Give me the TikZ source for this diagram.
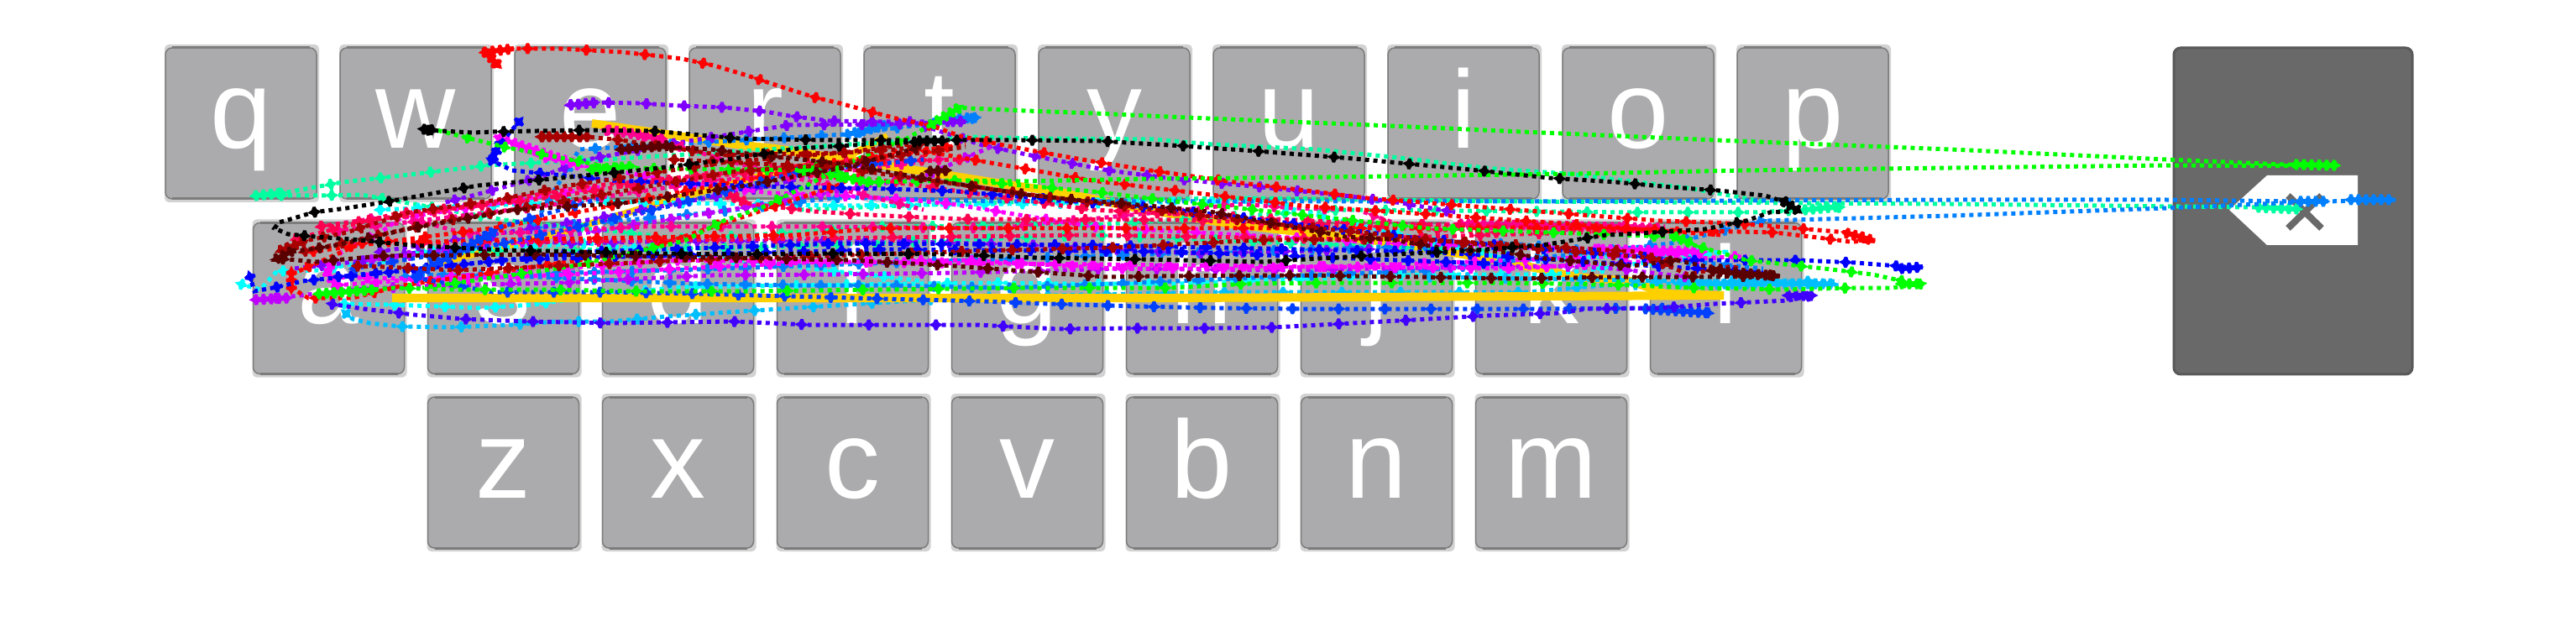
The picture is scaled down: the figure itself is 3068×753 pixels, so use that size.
\documentclass[tikz,border=0pt]{standalone}
\usepackage{fontspec}
\setmainfont{Liberation Sans}
\usepackage{xcolor}
\usetikzlibrary{
    positioning,
    decorations.markings
}
\definecolor{keygray}{HTML}{ABABAD}
\definecolor{keyrimc}{HTML}{7C7C7C}
\definecolor{keyhaloc}{HTML}{D2D2D2}
\definecolor{backgray}{HTML}{696969}
\definecolor{backrim}{HTML}{595959}
\definecolor{trRed}{HTML}{FF0000}
\definecolor{trViolet}{HTML}{8000FF}
\definecolor{trPurple}{HTML}{BF00FF}
\definecolor{trIndigo}{HTML}{4000FF}
\definecolor{trBlue}{HTML}{0000FF}
\definecolor{trRoyal}{HTML}{0040FF}
\definecolor{trAzure}{HTML}{0080FF}
\definecolor{trSky}{HTML}{00BFFF}
\definecolor{trCyan}{HTML}{00FFFF}
\definecolor{trSpring}{HTML}{00FFA0}
\definecolor{trLime}{HTML}{00FF00}
\definecolor{trYellow}{HTML}{FFD000}
\definecolor{trMagenta}{HTML}{FF00FF}
\definecolor{trPink}{HTML}{FF0090}
\definecolor{trCrimson}{HTML}{FF0050}
\definecolor{trDark}{HTML}{A80000}
\definecolor{trBrown}{HTML}{5A0000}
\newcommand{\trailmark}{\fill (-0.85mm,0) -- (-0.32mm,0.28mm) -- (-0.17mm,0.65mm) -- (0.17mm,0.65mm)
    -- (0.32mm,0.28mm) -- (0.85mm,0) -- (0.32mm,-0.28mm) -- (0.17mm,-0.65mm)
    -- (-0.17mm,-0.65mm) -- (-0.32mm,-0.28mm) -- cycle;}
\tikzset{
    keycap/.style={draw=keyrimc, fill=keygray, line width=0.15mm, rounded corners=0.8mm,
        minimum width=18mm, minimum height=18mm, inner sep=0pt, outer sep=0pt,
        text=white, text height=6mm, text depth=0pt,
        font=\fontsize{37.5}{40}\selectfont},
    keyhalo/.style={fill=keyhaloc, rounded corners=0.5mm},
    keyrim/.style={draw=keyrimc, line width=0.3mm},
    backkey/.style={draw=backrim, fill=backgray, line width=0.3mm, rounded corners=0.8mm,
        minimum width=28.4mm, minimum height=38.9mm, inner sep=0pt, outer sep=0pt},
    quick/.style={line width=0.5mm, dash pattern=on 0.5mm off 0.5mm},
    trail/.style={quick,
        postaction={decorate, decoration={markings,
            mark=between positions 0.3mm and 1 step #1 with {\trailmark}}}},
    blob/.style={line width=0.6mm,
        postaction={decorate, decoration={markings,
            mark=between positions 0mm and 1 step 0.9mm with {\trailmark}}}}
}
% one row of keys, pitch 208
\newcommand{\keyrow}[3]{
    \foreach \name [count=\i from 0] in {#3} {
        \pgfmathsetmacro{\cx}{#1+208*\i}
        \fill[keyhalo] (\cx-91,#2-94) rectangle (\cx+93,#2+94);
        \node[keycap] (key\name) at (\cx,#2) {\name};
        \draw[keyrim] ([xshift=0.8mm]key\name.north west) -- ([xshift=-0.8mm]key\name.north east);
        \draw[keyrim] ([xshift=0.8mm]key\name.south west) -- ([xshift=-0.8mm]key\name.south east);
    }
}
\newcommand{\gesture}[3][4.5mm]{\draw[#2, trail=#1] plot coordinates {#3};}
\newcommand{\sweep}[2]{\draw[#1, quick] plot coordinates {#2};}
\newcommand{\smear}[3]{\draw[#1, blob] #2 -- #3;}
\begin{document}
\begin{tikzpicture}[x=0.1mm, y=-0.1mm]
    \useasboundingbox (0,0) rectangle (3068,753);
    \fill[white] (0,0) rectangle (3068,753);
    \keyrow{287}{147}{q,w,e,r,t,y,u,i,o,p}
    \keyrow{391.5}{355.5}{a,s,d,f,g,h,j,k,l}
    \keyrow{599.5}{563}{z,x,c,v,b,n,m}
    % backspace key
    \node[backkey] (backspace) at (2731,251.5) {};
    \fill[white] (2655,250) -- (2700,209) -- (2808,209) -- (2808,292) -- (2700,292) -- cycle;
    \draw[backgray, line width=0.8mm] (2725,233) -- (2765,272) (2765,233) -- (2725,272);
    % swipe trails
    \draw[trYellow, line width=1mm] plot coordinates {(705,147) (883,173) (923,177) (1137,210) (1193,219) (1257,228) (1350,247) (1467,267) (1667,290) (1800,313) (1877,330) (1943,335) (1983,350) (2053,352)};
    \draw[trYellow, line width=0.8mm] plot coordinates {(523,313) (657,280) (793,240) (930,203) (1003,190) (1057,162)};
    \sweep{trSpring}{(2737,248) (2685,247) (2323,243) (1810,240) (1500,236) (1300,238) (1100,244) (950,250)}
    \gesture[6mm]{trSpring}{(2193,247) (2150,250) (2090,253) (1935,253) (1843,252) (1600,250) (1300,268) (1050,270) (820,285) (600,262) (430,232) (383,233) (305,233) (337,230) (408,217) (480,209) (580,197) (617,195) (720,190)}
    \sweep{trSpring}{(720,190) (1157,163) (1240,165) (1375,166) (1443,172) (1567,178) (1667,188) (1767,200) (1867,207) (2010,224) (2100,240)}
    \gesture{trSpring}{(500,300) (900,295) (1300,280) (1800,300)}
    \smear{trSpring}{(2150,250)}{(2190,246)}
    \smear{trSpring}{(2690,247)}{(2735,249)}
    \smear{trSpring}{(305,233)}{(335,230)}
    \gesture[6mm]{trCyan}{(285,338) (310,345) (330,323) (380,322) (500,300) (700,290) (1100,335)}
    \gesture[6mm]{trCyan}{(407,362) (463,363) (520,365) (573,367) (635,363) (713,352) (810,342) (1090,338) (1177,337) (1277,338) (1403,338) (1533,333) (1700,327) (1850,327) (2060,300)}
    \gesture{trCyan}{(450,250) (700,240) (1000,245) (1500,240) (1800,310) (2060,300)}
    \gesture[7mm]{trSky}{(410,372) (420,380) (440,385) (477,389) (537,390) (610,387) (663,383) (727,383) (795,377) (867,372) (945,367) (1027,362) (1110,357) (1197,353) (1455,348) (1770,348) (1820,348) (1910,340) (1997,338) (2087,337) (2190,340)}
    \gesture{trSky}{(1700,330) (2000,335) (2190,335)}
    \smear{trSky}{(2000,338)}{(2185,338)}
    \draw[trYellow, line width=1mm] (2053,352) -- (1400,355) -- (467,355);
    \sweep{trAzure}{(2853,238) (2770,240) (2740,240) (2580,238) (2323,238) (1810,240) (1500,240) (1290,240) (1190,240) (1000,235)}
    \gesture{trAzure}{(1000,235) (850,253) (633,272) (690,178) (1007,160) (1167,140)}
    \sweep{trAzure}{(2760,240) (2580,248) (2323,257) (2210,260) (2100,263)}
    \gesture{trAzure}{(2100,263) (1990,290) (1700,322) (1400,335) (1200,343) (1057,340) (950,340) (823,338) (640,330) (490,327)}
    \gesture{trAzure}{(480,330) (800,322) (1300,305) (1800,290) (2100,320)}
    \smear{trAzure}{(1010,160)}{(1060,148)}
    \smear{trAzure}{(1125,142)}{(1165,140)}
    \smear{trAzure}{(2740,240)}{(2770,240)}
    \smear{trAzure}{(2800,238)}{(2850,238)}
    \gesture{trViolet}{(677,125) (713,122) (760,123) (810,126) (862,128) (912,133) (940,138) (987,144) (1053,145) (1145,145) (1060,148) (940,149) (883,158) (820,168) (700,190) (640,212) (567,232) (527,242)}
    \gesture{trViolet}{(1100,150) (1170,173) (1237,187) (1320,203) (1397,213) (1493,222) (1600,233) (1670,242) (1733,253)}
    \gesture[5mm]{trViolet}{(1633,297) (1513,300) (1427,302) (1230,292) (1083,288) (932,287) (770,288) (682,290) (595,285) (440,310) (350,320)}
    \gesture{trViolet}{(450,300) (700,262) (900,225) (1050,190)}
    \smear{trViolet}{(680,125)}{(712,122)}
    \smear{trViolet}{(1135,145)}{(1150,145)}
    \gesture[7mm]{trPurple}{(2010,330) (1923,320) (1860,317) (1760,318) (1633,320) (1527,322) (1327,320) (1267,322) (1138,325) (997,327) (848,328) (740,333) (673,337) (523,340) (420,345) (313,357)}
    \gesture{trPurple}{(440,310) (650,285) (900,245) (1100,210) (1180,175)}
    \smear{trPurple}{(305,357)}{(345,355)}
    \gesture[6mm]{trMagenta}{(593,163) (613,175) (647,187) (683,195) (800,215) (917,230) (983,232) (1083,238) (1133,243) (1300,270) (1660,290) (1910,297) (2010,302) (1723,313) (1600,317) (1487,320) (1327,320) (1150,310) (977,312) (810,320) (680,327) (523,333) (393,330) (390,320) (407,300) (453,277) (477,260) (720,222)}
    \gesture{trMagenta}{(400,340) (800,310) (1300,315) (1800,320) (2080,305)}
    \smear{trMagenta}{(595,165)}{(690,197)}
    \smear{trMagenta}{(1900,297)}{(2030,300)}
    \smear{trMagenta}{(390,325)}{(400,340)}
    \gesture{trPink}{(720,155) (780,165) (860,190) (1100,250)}
    \gesture[6mm]{trPink}{(380,270) (447,260) (480,258) (553,278) (627,277) (767,270) (977,270) (1187,272) (1480,243) (1540,248) (1617,250) (1667,268) (1733,267) (1983,270)}
    \gesture{trPink}{(400,275) (650,245) (850,215) (1000,205) (1120,190)}
    \smear{trPink}{(1740,267)}{(1975,272)}
    \smear{trPink}{(725,155)}{(790,165)}
    \gesture{trCrimson}{(380,270) (500,255) (700,222) (1000,193) (1147,190)}
    \gesture[7mm]{trCrimson}{(873,233) (887,242) (937,248) (970,252) (1017,255) (1075,258) (1147,261) (1400,262) (1600,268) (1800,278)}
    \gesture{trCrimson}{(350,285) (470,255) (620,240) (790,215) (900,205) (1050,215) (1300,250) (1600,265) (1800,270) (1980,275)}
    \gesture[7mm]{trCrimson}{(500,290) (900,285) (1300,280) (1600,285) (1950,275)}
    \smear{trCrimson}{(868,232)}{(890,242)}
    \gesture[7mm]{trRed}{(592,78) (577,63) (613,58) (667,58) (740,62) (787,67) (812,70) (850,78) (890,90) (920,100) (970,116) (1000,123) (1033,132) (1067,141) (1110,150) (1143,162) (1190,172) (1243,182) (1300,192) (1370,203) (1470,217) (1547,226) (1628,236) (1717,243) (1807,250) (1897,257) (1977,263) (2037,265) (2093,268) (2140,272) (2200,277) (2233,287) (2203,288) (2165,283) (2113,277) (1900,272) (1600,272) (1300,272) (1047,272) (947,280) (640,285) (430,290) (347,327) (347,343) (367,355) (420,355) (480,340) (760,300) (1000,220) (1070,178)}
    \gesture{trRed}{(370,300) (600,270) (830,225) (1020,190) (1150,172)}
    \gesture[6mm]{trRed}{(1100,180) (1300,215) (1550,245) (1800,262) (2050,280)}
    \smear{trRed}{(592,76)}{(578,62)}
    \smear{trRed}{(578,62)}{(612,58)}
    \smear{trRed}{(2200,278)}{(2233,287)}
    \smear{trRed}{(347,325)}{(347,345)}
    \gesture[6mm]{trBlue}{(620,143) (590,178) (583,190) (610,203) (660,208) (730,215) (900,222) (1057,225) (1140,228) (1400,250) (1700,285) (2000,310) (2143,310) (2210,313) (2260,317) (2287,320)}
    \gesture{trBlue}{(297,327) (303,347) (330,342) (360,335) (600,310) (1053,297) (1400,300) (1800,315)}
    \gesture{trBlue}{(400,330) (700,300) (1000,290) (1300,292) (1700,300) (2100,325)}
    \smear{trBlue}{(595,172)}{(586,192)}
    \smear{trBlue}{(2265,320)}{(2290,318)}
    \gesture[5.5mm]{trRoyal}{(2037,373) (1977,367) (1833,368) (1710,368) (1550,368) (1450,367) (1353,365) (1250,362) (1170,359) (1053,356) (940,353) (832,350) (723,348) (587,348) (490,330) (520,313) (557,298) (597,270) (713,237)}
    \gesture{trRoyal}{(420,320) (600,290) (800,245) (950,205) (1100,190)}
    \smear{trRoyal}{(1960,368)}{(2037,373)}
    \smear{trRoyal}{(500,325)}{(590,275)}
    \gesture[8mm]{trIndigo}{(393,362) (433,368) (493,375) (550,380) (627,383) (727,385) (873,383) (963,387) (1058,387) (1163,387) (1260,392) (1355,391) (1450,391) (1517,390) (1593,386) (1685,381) (1772,376) (1855,373) (1890,368) (1977,367) (2043,362) (2087,360) (2130,358) (2153,353)}
    \smear{trIndigo}{(2130,352)}{(2160,352)}
    \sweep{trLime}{(2780,197) (2720,196) (2580,190) (2323,178) (2043,167) (1813,157) (1633,149) (1413,140) (1303,135) (1223,132) (1153,129) (1143,128)}
    \gesture[8mm]{trLime}{(1143,128) (1110,148) (1080,165) (1050,177) (1020,190) (953,225) (908,247) (862,263) (815,287) (683,317) (503,343)}
    \sweep{trLime}{(2775,198) (2580,197) (2323,200) (2077,203) (1877,207) (1583,211) (1367,213) (1220,216) (1140,215)}
    \gesture{trLime}{(1140,215) (1030,217) (970,203) (730,200) (600,175) (520,155)}
    \gesture[9mm]{trLime}{(2290,338) (2253,343) (2207,343) (2127,345) (2018,343) (1943,340) (1857,338) (1773,337) (1582,337) (1488,338) (1393,343) (1220,343) (1053,345) (893,347) (760,347) (643,345) (543,345) (470,343) (413,347) (377,352)}
    \gesture[6mm]{trLime}{(2267,335) (2230,327) (2173,320) (2080,310) (2010,290) (1990,282) (1700,272) (1400,240) (1300,228) (1150,215)}
    \smear{trLime}{(2265,338)}{(2285,338)}
    \smear{trLime}{(380,350)}{(450,345)}
    \smear{trLime}{(705,202)}{(755,198)}
    \smear{trLime}{(955,203)}{(990,196)}
    \smear{trLime}{(990,208)}{(1040,218)}
    \smear{trLime}{(1110,148)}{(1143,128)}
    \smear{trLime}{(1995,282)}{(2015,290)}
    \smear{trLime}{(2735,196)}{(2780,197)}
    \gesture{trDark}{(643,163) (700,163) (740,167) (860,185) (1003,182) (1070,178) (1123,167)}
    \gesture{trDark}{(340,297) (363,287) (413,277) (487,253) (593,238) (672,222) (867,193) (940,187) (1003,182) (1123,167)}
    \gesture[6mm]{trDark}{(423,317) (457,318) (543,322) (753,313) (818,310) (1197,298) (1323,295) (1403,291) (1500,286) (1653,285) (1760,289) (1950,300) (2010,327) (2063,317) (2090,327)}
    \gesture{trDark}{(360,300) (520,265) (700,235) (870,205) (1000,195) (1150,175)}
    \gesture{trDark}{(800,190) (1000,200) (1250,235) (1500,265) (1750,290) (2000,310)}
    \smear{trDark}{(645,163)}{(700,163)}
    \smear{trDark}{(335,298)}{(365,287)}
    \gesture[6mm]{trBrown}{(737,178) (790,175) (847,178) (890,183) (1000,195) (1133,218) (1223,232) (1280,238) (1333,242) (1400,248) (1447,253) (1510,265) (1603,282) (1653,285) (1727,297) (1787,300) (1840,308) (1943,317) (1997,310) (2043,320) (2077,325) (2122,329) (2023,330) (1927,330) (1807,332) (1690,330) (1540,328) (1380,329) (1318,330) (1247,325) (1138,317) (1013,310) (870,307) (633,303) (453,305) (377,312) (330,308) (347,300) (397,293) (490,272) (613,250) (742,242) (883,222) (1003,200) (1090,177)}
    \smear{trBrown}{(740,178)}{(800,173)}
    \smear{trBrown}{(1108,204)}{(1130,203)}
    \smear{trBrown}{(2040,323)}{(2118,329)}
    \smear{trBrown}{(330,308)}{(350,298)}
    \gesture[9mm]{black}{(507,155) (563,158) (587,157) (640,156) (697,155) (777,156) (880,165) (982,167) (1217,167) (1310,168) (1410,174) (1510,181) (1612,189) (1708,198) (1750,202) (1845,212) (1925,217) (1990,223) (2047,227) (2102,233) (2130,242) (2140,247) (2130,252) (2108,253) (2080,263) (2030,273) (1953,278) (1913,280) (1837,292) (1745,299) (1640,304) (1503,312) (1362,309) (1233,307) (1133,303) (1005,302) (885,303) (777,302) (693,300) (600,298) (560,296) (488,292) (417,285) (375,282) (343,279) (327,272) (332,265) (350,260) (373,253) (413,248) (463,240) (535,227) (570,221) (657,213) (760,203) (860,191) (950,177) (1033,172) (1110,168)}
    \smear{black}{(1095,168)}{(1125,168)}
    \smear{black}{(505,154)}{(518,155)}
    \smear{black}{(2125,240)}{(2140,250)}
\end{tikzpicture}
\end{document}
